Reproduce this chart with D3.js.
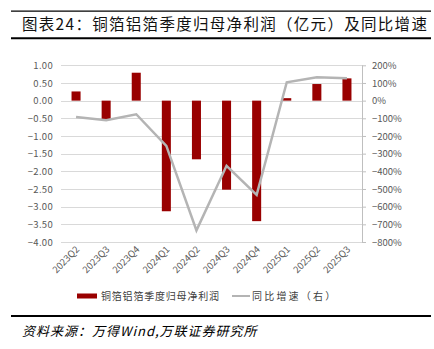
<!DOCTYPE html>
<html><head><meta charset="utf-8">
<script src="https://cdn.jsdelivr.net/npm/d3@7"></script>
<style>body{margin:0;background:#fff;}svg{display:block;}</style>
</head><body><svg id="c" width="434" height="349"></svg>
<script>
const categories = ["2023Q2","2023Q3","2023Q4","2024Q1","2024Q2","2024Q3","2024Q4","2025Q1","2025Q2","2025Q3"];
const profit = [0.26,-0.55,0.79,-3.13,-1.66,-2.52,-3.41,0.07,0.47,0.63];
const growth = [-92,-111,-77,-256,-734,-369,-533,104,132,127];
const leftTicks = [1,0.5,0,-0.5,-1,-1.5,-2,-2.5,-3,-3.5,-4];
const rightTicks = [200,100,0,-100,-200,-300,-400,-500,-600,-700,-800];
const titleText = "图表24：铜箔铝箔季度归母净利润（亿元）及同比增速";
const legendBar = "铜箔铝箔季度归母净利润";
const legendLine = "同比增速（右）";
const sourceText = "资料来源：万得Wind,万联证券研究所";

const svg = d3.select("#c");
const font = "'Noto Sans CJK SC','Noto Sans',sans-serif";
const L = 61, R = 362, T = 65.3, B = 242;
const x = d3.scaleBand().domain(categories).range([L, R]).paddingInner(0.7).paddingOuter(0.35);
const yL = d3.scaleLinear().domain([-4, 1]).range([B, T]);
const yR = d3.scaleLinear().domain([-800, 200]).range([B, T]);

// title
svg.append("line").attr("x1",11).attr("x2",431).attr("y1",11.2).attr("y2",11.2).attr("stroke","#000").attr("stroke-width",1.3);
svg.append("line").attr("x1",11).attr("x2",431).attr("y1",38.3).attr("y2",38.3).attr("stroke","#000").attr("stroke-width",2);
svg.append("text").attr("x",22).attr("y",30).attr("font-family",font).attr("font-size",15.5)
  .attr("letter-spacing",1.3).attr("fill","#111").text(titleText);

// gridlines
svg.append("g").selectAll("line").data(leftTicks).join("line")
  .attr("x1",L).attr("x2",R).attr("y1",d=>Math.round(yL(d))+0.5).attr("y2",d=>Math.round(yL(d))+0.5)
  .attr("stroke","#d9d9d9").attr("stroke-width",1);

// left axis
const gl = svg.append("g").attr("transform",`translate(${L},0)`)
  .call(d3.axisLeft(yL).tickValues(leftTicks).tickSize(0).tickPadding(8).tickFormat(d=>d3.format(".2f")(d).replace("-","−")));
gl.select(".domain").remove();
gl.selectAll("text").attr("font-family",font).attr("font-size",9.5).attr("letter-spacing",0.3).attr("fill","#595959");

// right axis
const gr = svg.append("g").attr("transform",`translate(${R},0)`)
  .call(d3.axisRight(yR).tickValues(rightTicks).tickSize(4).tickPadding(6).tickFormat(d=>(d<0?"−":"")+Math.abs(d)+"%"));
gr.select(".domain").attr("stroke","#bfbfbf").attr("d",`M0.5,${T}V${B}`);
gr.selectAll(".tick line").attr("stroke","#bfbfbf");
gr.selectAll("text").attr("font-family",font).attr("font-size",9.5).attr("fill","#595959");

// x labels
const gx = svg.append("g").attr("transform",`translate(0,${B})`)
  .call(d3.axisBottom(x).tickSize(0).tickPadding(0));
gx.select(".domain").remove();
gx.selectAll("text").attr("font-family",font).attr("font-size",9.5).attr("fill","#595959")
  .attr("text-anchor","end").attr("dy",0).attr("transform","translate(4,8) rotate(-45)");

// bars
svg.append("g").selectAll("rect").data(profit).join("rect")
  .attr("x",(d,i)=>x(categories[i])).attr("width",x.bandwidth())
  .attr("y",d=>yL(Math.max(0,d))).attr("height",d=>Math.abs(yL(d)-yL(0)))
  .attr("fill","#990000");

// line
svg.append("path").datum(growth)
  .attr("d",d3.line().x((d,i)=>x(categories[i])+x.bandwidth()/2).y(d=>yR(d)))
  .attr("fill","none").attr("stroke","#b4b4b4").attr("stroke-width",2.5);

// legend
svg.append("rect").attr("x",77).attr("y",293.5).attr("width",20).attr("height",5).attr("fill","#990000");
svg.append("text").attr("x",101).attr("y",299.5).attr("font-family",font).attr("font-size",10)
  .attr("letter-spacing",0.8).attr("fill","#404040").text(legendBar);
svg.append("line").attr("x1",232).attr("x2",250).attr("y1",296).attr("y2",296).attr("stroke","#b4b4b4").attr("stroke-width",2);
svg.append("text").attr("x",252).attr("y",299.5).attr("font-family",font).attr("font-size",10)
  .attr("letter-spacing",2.2).attr("fill","#404040").text(legendLine);

// source
svg.append("line").attr("x1",11).attr("x2",431).attr("y1",316).attr("y2",316).attr("stroke","#000").attr("stroke-width",2);
svg.append("text").attr("x",22).attr("y",336).attr("font-family",font).attr("font-size",13)
  .attr("letter-spacing",1).attr("font-style","italic").attr("fill","#000").text(sourceText);
</script></body></html>
